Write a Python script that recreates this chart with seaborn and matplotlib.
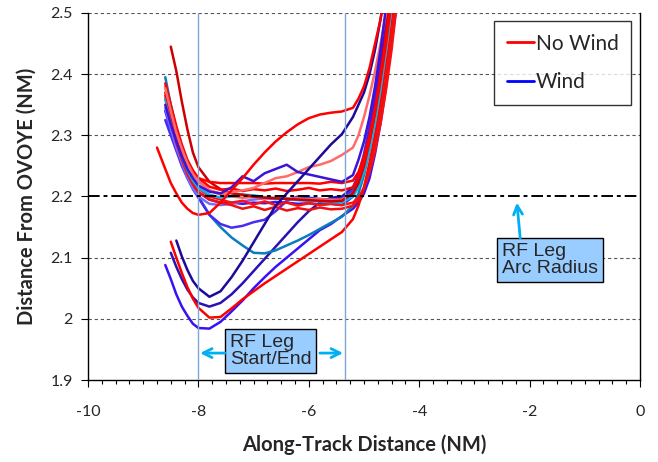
import numpy as np
import pandas as pd
import matplotlib
matplotlib.use("Agg")
import matplotlib.pyplot as plt
from matplotlib.lines import Line2D
from matplotlib.ticker import MultipleLocator
import seaborn as sns

nan = np.nan

# along-track positions (NM) shared by every run
x_track = [-8.75, -8.6, -8.5, -8.4, -8.3, -8.2, -8.1, -8.0, -7.8, -7.6,
           -7.4, -7.2, -7.0, -6.8, -6.6, -6.4, -6.2, -6.0, -5.8, -5.6,
           -5.4, -5.2, -5.1, -5.0, -4.9, -4.8, -4.7, -4.6, -4.5, -4.4]

# Wind runs
w_navy1 = [nan, nan, nan, 2.128, 2.102, 2.08, 2.062, 2.05, 2.036, 2.045,
           2.068, 2.095, 2.125, 2.155, 2.185, 2.205, 2.225, 2.245, 2.265, 2.285,
           2.302, 2.33, 2.35, 2.37, 2.40, 2.44, 2.49, 2.55, nan, nan]
w_navy2 = [nan, nan, 2.108, 2.085, 2.065, 2.048, 2.035, 2.026, 2.02, 2.026,
           2.04, 2.058, 2.078, 2.098, 2.118, 2.138, 2.158, 2.176, 2.19, 2.198,
           2.2, 2.215, 2.235, 2.265, 2.30, 2.345, 2.40, 2.46, 2.53, nan]
w_blue_low = [nan, 2.088, 2.065, 2.04, 2.02, 2.005, 1.992, 1.985, 1.984, 1.995,
              2.012, 2.03, 2.05, 2.068, 2.085, 2.10, 2.115, 2.13, 2.145, 2.155,
              2.168, 2.18, 2.19, 2.205, 2.23, 2.27, 2.32, 2.38, 2.45, 2.52]
w_teal = [nan, 2.395, 2.35, 2.31, 2.275, 2.245, 2.22, 2.2, 2.17, 2.15,
          2.133, 2.12, 2.108, 2.107, 2.112, 2.12, 2.128, 2.137, 2.147, 2.157,
          2.167, 2.185, 2.205, 2.235, 2.275, 2.32, 2.375, 2.44, 2.51, nan]
w_violet = [nan, 2.325, 2.30, 2.275, 2.25, 2.23, 2.212, 2.198, 2.17, 2.155,
            2.149, 2.152, 2.158, 2.162, 2.176, 2.193, 2.2, 2.198, 2.196, 2.195,
            2.196, 2.21, 2.235, 2.27, 2.315, 2.365, 2.42, 2.49, 2.56, nan]
w_wavy = [nan, 2.35, 2.318, 2.29, 2.265, 2.245, 2.23, 2.218, 2.208, 2.205,
          2.215, 2.233, 2.225, 2.238, 2.245, 2.252, 2.24, 2.236, 2.232, 2.228,
          2.224, 2.235, 2.26, 2.29, 2.33, 2.38, 2.44, 2.51, nan, nan]
w_cyan = [nan, 2.36, 2.325, 2.293, 2.265, 2.243, 2.226, 2.214, 2.203, 2.198,
          2.2, 2.203, 2.202, 2.199, 2.197, 2.196, 2.194, 2.193, 2.192, 2.191,
          2.19, 2.2, 2.215, 2.24, 2.275, 2.32, 2.375, 2.44, 2.51, nan]
w_blue_mid = [nan, 2.34, 2.308, 2.28, 2.256, 2.236, 2.22, 2.207, 2.195, 2.19,
              2.19, 2.188, 2.19, 2.189, 2.191, 2.19, 2.188, 2.189, 2.187, 2.188,
              2.186, 2.2, 2.225, 2.26, 2.305, 2.355, 2.415, 2.48, 2.55, nan]
w_lavender = [nan, 2.345, 2.31, 2.28, 2.255, 2.232, 2.213, 2.2, 2.188, 2.186,
              2.188, 2.192, 2.195, 2.197, 2.196, 2.197, 2.195, 2.196, 2.194, 2.195,
              2.193, 2.202, 2.218, 2.245, 2.285, 2.33, 2.39, 2.455, 2.53, nan]

# No Wind runs
nw_dark = [nan, nan, 2.445, 2.405, 2.355, 2.31, 2.272, 2.248, 2.224, 2.212,
           2.205, 2.203, 2.2, 2.198, 2.197, 2.196, 2.195, 2.194, 2.193, 2.192,
           2.193, 2.205, 2.222, 2.25, 2.29, 2.34, 2.40, 2.47, 2.55, nan]
nw_bump = [2.28, 2.245, 2.222, 2.205, 2.19, 2.18, 2.173, 2.17, 2.173, 2.19,
           2.21, 2.23, 2.252, 2.272, 2.29, 2.305, 2.318, 2.328, 2.334, 2.337,
           2.339, 2.345, 2.36, 2.38, 2.41, 2.45, 2.49, 2.54, nan, nan]
nw_low = [nan, nan, 2.126, 2.10, 2.075, 2.052, 2.033, 2.018, 2.002, 2.003,
          2.017, 2.032, 2.045, 2.058, 2.07, 2.082, 2.094, 2.106, 2.118, 2.13,
          2.142, 2.163, 2.185, 2.215, 2.255, 2.30, 2.355, 2.42, 2.49, 2.56]
nw_flat = [nan, 2.37, 2.335, 2.30, 2.275, 2.255, 2.24, 2.23, 2.224, 2.222,
           2.222, 2.222, 2.222, 2.221, 2.222, 2.222, 2.222, 2.222, 2.221, 2.224,
           2.222, 2.226, 2.24, 2.265, 2.30, 2.345, 2.40, 2.46, 2.53, nan]
nw_salmon = [nan, 2.377, 2.34, 2.305, 2.278, 2.255, 2.237, 2.225, 2.21, 2.205,
             2.207, 2.21, 2.214, 2.222, 2.23, 2.233, 2.24, 2.248, 2.252, 2.258,
             2.268, 2.28, 2.30, 2.33, 2.365, 2.405, 2.45, 2.50, 2.56, nan]
nw_mid = [nan, 2.385, 2.35, 2.315, 2.285, 2.26, 2.243, 2.23, 2.216, 2.211,
          2.213, 2.209, 2.212, 2.21, 2.213, 2.209, 2.211, 2.214, 2.21, 2.212,
          2.21, 2.215, 2.23, 2.255, 2.29, 2.335, 2.39, 2.45, 2.52, nan]
nw_below = [nan, 2.365, 2.33, 2.295, 2.265, 2.243, 2.226, 2.213, 2.2, 2.195,
            2.19, 2.193, 2.187, 2.192, 2.186, 2.19, 2.185, 2.189, 2.186, 2.188,
            2.186, 2.19, 2.198, 2.213, 2.24, 2.275, 2.32, 2.375, 2.44, 2.52]
nw_lower = [nan, 2.36, 2.322, 2.288, 2.26, 2.237, 2.22, 2.207, 2.195, 2.19,
            2.186, 2.18, 2.184, 2.178, 2.183, 2.177, 2.181, 2.178, 2.182, 2.179,
            2.18, 2.185, 2.195, 2.215, 2.245, 2.285, 2.335, 2.395, 2.465, 2.54]
nw_light = [nan, 2.38, 2.345, 2.31, 2.28, 2.257, 2.238, 2.225, 2.21, 2.203,
            2.2, 2.198, 2.199, 2.197, 2.198, 2.196, 2.197, 2.195, 2.196, 2.194,
            2.195, 2.205, 2.22, 2.245, 2.28, 2.325, 2.38, 2.44, 2.51, nan]

runs = {
    "w_navy2": (w_navy2, "#2a12b0"),
    "w_blue_low": (w_blue_low, "#3a10f5"),
    "w_teal": (w_teal, "#0a7cc0"),
    "w_violet": (w_violet, "#4a2cf0"),
    "w_blue_mid": (w_blue_mid, "#3318ff"),
    "w_lavender": (w_lavender, "#7a6cff"),
    "nw_low": (nw_low, "#ff0000"),
    "nw_below": (nw_below, "#ff1010"),
    "nw_lower": (nw_lower, "#ee1111"),
    "nw_light": (nw_light, "#ff6060"),
    "w_cyan": (w_cyan, "#12b0e6"),
    "nw_dark": (nw_dark, "#cc0000"),
    "nw_mid": (nw_mid, "#ff0000"),
    "nw_flat": (nw_flat, "#ff0000"),
    "nw_salmon": (nw_salmon, "#ff6a6a"),
    "w_wavy": (w_wavy, "#3a14d8"),
    "w_navy1": (w_navy1, "#1c0a99"),
    "nw_bump": (nw_bump, "#ff0000"),
}

x_ticks = [-10, -8, -6, -4, -2, 0]
y_ticks = [1.9, 2.0, 2.1, 2.2, 2.3, 2.4, 2.5]
y_tick_labels = ["1.9", "2", "2.1", "2.2", "2.3", "2.4", "2.5"]

rows = []
for name, (vals, _) in runs.items():
    for xv, yv in zip(x_track, vals):
        rows.append((name, xv, yv))
df = pd.DataFrame(rows, columns=["run", "x", "y"]).dropna()
palette = {name: c for name, (_, c) in runs.items()}

sns.set_style("white")
plt.rcParams["font.family"] = ["Lato", "DejaVu Sans"]

fig = plt.figure(figsize=(6.58, 4.62), dpi=100)
ax = fig.add_axes([88 / 658, 1 - 380 / 462, 552 / 658, 367 / 462])

sns.lineplot(data=df, x="x", y="y", hue="run", hue_order=list(runs.keys()),
             palette=palette, estimator=None, sort=False, legend=False,
             linewidth=1.8, ax=ax, zorder=3)

ax.set_xlim(-10, 0)
ax.set_ylim(1.9, 2.5)
ax.set_xticks(x_ticks)
ax.set_xticklabels([str(v) for v in x_ticks])
ax.xaxis.set_minor_locator(MultipleLocator(0.25))
ax.set_yticks(y_ticks)
ax.set_yticklabels(y_tick_labels)

for yv in [2.0, 2.1, 2.3, 2.4, 2.5]:
    ax.axhline(yv, color="#555555", lw=0.8, ls=(0, (3, 2.5)), zorder=1)
ax.axhline(2.2, color="black", lw=1.4, ls=(0, (6, 2, 2, 2)), zorder=5)

for xv in [-8.0, -5.34]:
    ax.axvline(xv, color="#7fa6d4", lw=1.0, zorder=4)

for side in ["left", "bottom", "right"]:
    ax.spines[side].set_color("black")
    ax.spines[side].set_linewidth(1.0)
ax.spines["top"].set_visible(False)

ax.tick_params(axis="both", which="major", direction="out", length=5,
               width=0.8, color="black", labelsize=11.5, pad=6)
ax.tick_params(axis="x", which="minor", direction="out", length=3,
               width=0.8, color="black")
ax.tick_params(axis="x", which="major", pad=13)
ax.tick_params(left=True, bottom=True, which="both")
ax.tick_params(axis="y", which="minor", left=False)

ax.set_xlabel("Along-Track Distance (NM)", fontsize=14.5, fontweight="bold",
              labelpad=11)
ax.set_ylabel("Distance From OVOYE (NM)", fontsize=14.5, fontweight="bold",
              labelpad=10)

handles = [Line2D([], [], color="#ff0000", lw=2.0),
           Line2D([], [], color="#0000ff", lw=2.0)]
leg = ax.legend(handles, ["No Wind", "Wind"], loc="upper right",
                bbox_to_anchor=(0.984, 0.978), frameon=True, fancybox=False,
                edgecolor="black", fontsize=15, handlelength=1.3,
                handletextpad=0.1, labelspacing=0.9, borderpad=0.6,
                borderaxespad=0)
leg.get_frame().set_linewidth(1.0)
leg.set_zorder(6)

box = dict(boxstyle="square,pad=0.25", fc="#99ccff", ec="black", lw=1.0)
ax.text(-7.43, 1.947, "RF Leg\nStart/End", fontsize=14, va="center",
        ha="left", bbox=box, zorder=7, linespacing=1.0,
        family=["Liberation Sans"])
ax.text(-2.50, 2.096, "RF Leg\nArc Radius", fontsize=14, va="center",
        ha="left", bbox=box, zorder=7, linespacing=1.0,
        family=["Liberation Sans"])

arrow = dict(arrowstyle="->", color="#00b0f0", lw=2, mutation_scale=16,
             shrinkA=0, shrinkB=0)
ax.annotate("", xy=(-7.97, 1.944), xytext=(-7.52, 1.944), arrowprops=arrow,
            zorder=7)
ax.annotate("", xy=(-5.38, 1.944), xytext=(-5.80, 1.944), arrowprops=arrow,
            zorder=7)
ax.annotate("", xy=(-2.23, 2.19), xytext=(-2.17, 2.132), arrowprops=arrow,
            zorder=7)

fig.savefig("out.png", dpi=100)
